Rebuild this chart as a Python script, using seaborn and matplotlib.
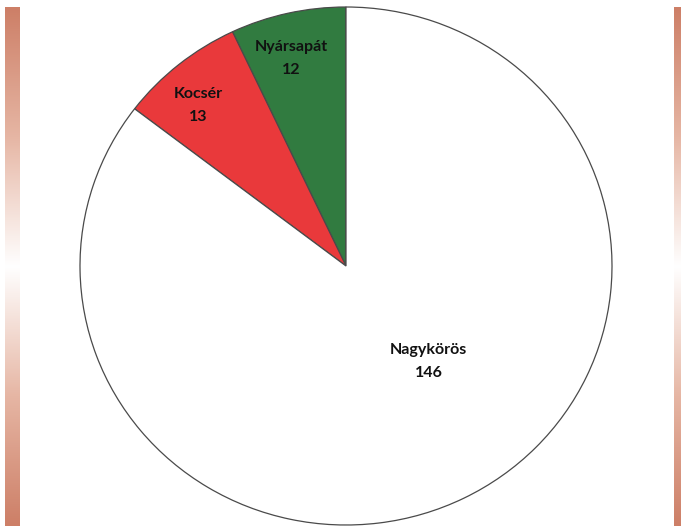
import numpy as np
import seaborn as sns
import matplotlib.pyplot as plt
from matplotlib.colors import LinearSegmentedColormap

# data
towns = ["Nyársapát", "Kocsér", "Nagykörös"]
counts = [12, 13, 146]
colors = ["#317b40", "#e9393b", "#ffffff"]

sns.set_theme(style="white")
plt.rcParams['font.family'] = ['Lato', 'DejaVu Sans']

fig = plt.figure(figsize=(6.81, 5.26), dpi=100)
W, H = 681, 526

# side gradient bars
cmap = LinearSegmentedColormap.from_list("bar", ["#cd7f67", "#e6b6a4", "#ffffff", "#e6b6a4", "#cd7f67"])
grad = np.linspace(0, 1, 256).reshape(-1, 1)
for x0, x1 in [(5, 20), (674, 681)]:
    bax = fig.add_axes([x0 / W, 0, (x1 - x0) / W, (H - 7) / H])
    bax.imshow(grad, aspect="auto", cmap=cmap)
    bax.axis("off")

# pie
cx, cy, rx, ry = 346, 266, 266, 259
ax = fig.add_axes([(cx - rx) / W, (H - cy - ry) / H, 2 * rx / W, 2 * ry / H])
labels = [f"{t}\n{c}" for t, c in zip(towns, counts)]
wedges, texts = ax.pie(counts, labels=labels, colors=colors, startangle=90,
                       counterclock=True, labeldistance=0.82,
                       wedgeprops=dict(edgecolor="#4a4a4a", linewidth=0.9),
                       textprops=dict(fontsize=11.5, fontweight="bold", color="#111111"))
for t in texts:
    t.set_ha("center")
    t.set_va("center")
    t.set_linespacing(1.8)
# label spots as in the original
texts[0].set_position((-0.205, 0.80))
texts[1].set_position((-0.555, 0.62))
texts[2].set_position((0.31, -0.37))
for w in wedges:
    w.set_clip_on(False)
ax.set_aspect("auto")
ax.set_xlim(-1, 1)
ax.set_ylim(-1, 1)
ax.axis("off")

plt.savefig("out.png", dpi=100)
